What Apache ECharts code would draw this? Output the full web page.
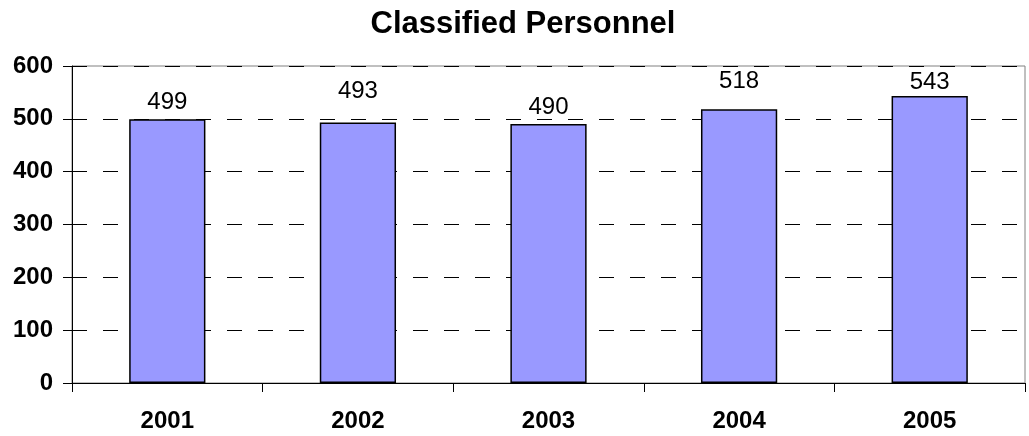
<!DOCTYPE html>
<html>
<head>
<meta charset="utf-8">
<script src="https://cdn.jsdelivr.net/npm/echarts@6/dist/echarts.min.js"></script>
<style>
  html, body { margin: 0; padding: 0; background: #fff; }
  #chart { width: 1029px; height: 436px; }
</style>
</head>
<body>
<div id="chart"></div>
<script>
const years = ['2001', '2002', '2003', '2004', '2005']
const personnel = [499, 493, 490, 518, 543]
const yTicks = [0, 100, 200, 300, 400, 500, 600]

// label gaps above each bar, as placed in the original
const labelGap = [5, 19, 5, 16, 2]

const chart = echarts.init(document.getElementById('chart'))
chart.setOption({
  animation: false,
  title: {
    text: 'Classified Personnel',
    left: 518,
    textAlign: 'center',
    top: 4,
    textStyle: { fontFamily: 'Liberation Sans', fontSize: 31, fontWeight: 'bold', color: '#000' }
  },
  grid: { left: 72, right: 4, top: 66, bottom: 53, show: true, borderColor: '#808080', borderWidth: 1 },
  xAxis: {
    type: 'category',
    data: years,
    axisLine: { lineStyle: { color: '#000', width: 1 } },
    axisTick: { show: true, length: 9, lineStyle: { color: '#000' } },
    axisLabel: { margin: 26, fontFamily: 'Liberation Sans', fontSize: 24, fontWeight: 'bold', color: '#000' }
  },
  yAxis: {
    type: 'value',
    min: yTicks[0],
    max: yTicks[yTicks.length - 1],
    interval: 100,
    axisLine: { show: true, lineStyle: { color: '#000', width: 1 } },
    axisTick: { show: true, length: 9, lineStyle: { color: '#000' } },
    axisLabel: { margin: 19, fontFamily: 'Liberation Sans', fontSize: 24, fontWeight: 'bold', color: '#000' },
    splitLine: { show: true, lineStyle: { color: '#000', type: [15, 16], width: 1 } }
  },
  series: [{
    type: 'bar',
    data: personnel.map((v, i) => ({ value: v, label: { distance: labelGap[i] } })),
    barWidth: '40%',
    itemStyle: { color: '#9999FF', borderColor: '#000', borderWidth: 1.5 },
    label: {
      show: true,
      position: 'top',
      fontFamily: 'Liberation Sans',
      fontSize: 24,
      color: '#000'
    }
  }]
})
</script>
</body>
</html>
